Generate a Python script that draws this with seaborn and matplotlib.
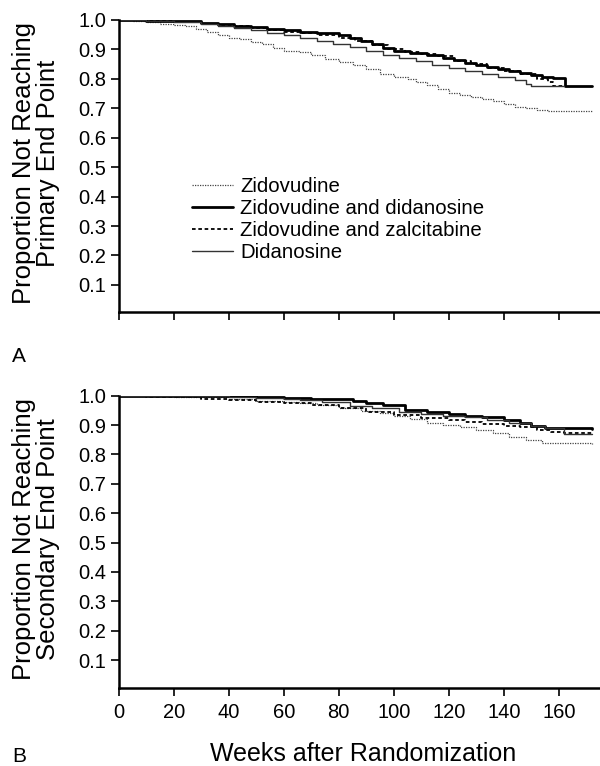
import matplotlib
matplotlib.use("Agg")
import matplotlib.pyplot as plt
import seaborn as sns

# Semanas y proporción sin evento (curvas escalonadas)
# --- Panel A: punto final primario ---
a_zdv_w = [0, 5, 10, 15, 20, 24, 28, 32, 36, 40, 44, 48, 52, 56, 60, 66, 70, 75, 80, 85, 90, 95,
           100, 105, 108, 112, 116, 120, 124, 128, 132, 136, 140, 144, 148, 152, 156, 172]
a_zdv_p = [1.0, 0.998, 0.993, 0.988, 0.984, 0.978, 0.968, 0.958, 0.948, 0.94, 0.934, 0.926, 0.918,
           0.905, 0.896, 0.89, 0.88, 0.868, 0.858, 0.846, 0.832, 0.815, 0.806, 0.8, 0.79, 0.778,
           0.765, 0.753, 0.744, 0.738, 0.731, 0.724, 0.716, 0.706, 0.7, 0.695, 0.69, 0.689]

a_ddi_zdv_w = [0, 10, 20, 30, 36, 42, 48, 54, 60, 66, 72, 80, 84, 88, 92, 96, 100, 106, 112, 118,
               122, 126, 130, 134, 138, 142, 146, 150, 154, 158, 162.4, 172]
a_ddi_zdv_p = [1.0, 0.998, 0.995, 0.99, 0.986, 0.98, 0.975, 0.97, 0.965, 0.96, 0.957, 0.949, 0.94,
               0.928, 0.918, 0.905, 0.895, 0.887, 0.88, 0.872, 0.865, 0.855, 0.848, 0.84, 0.834,
               0.828, 0.82, 0.812, 0.806, 0.802, 0.776, 0.776]

a_ddc_zdv_w = [0, 10, 20, 30, 36, 42, 48, 54, 60, 66, 72, 80, 86, 92, 98, 104, 110, 116, 122, 128,
               134, 140, 146, 152, 156, 158, 162]
a_ddc_zdv_p = [1.0, 0.998, 0.994, 0.988, 0.984, 0.978, 0.972, 0.966, 0.96, 0.955, 0.95, 0.94, 0.93,
               0.915, 0.9, 0.89, 0.883, 0.876, 0.862, 0.85, 0.838, 0.828, 0.815, 0.8, 0.79, 0.776,
               0.776]

a_ddi_w = [0, 10, 20, 30, 36, 42, 48, 54, 60, 66, 72, 78, 84, 90, 96, 102, 108, 114, 120, 126, 132,
           138, 144, 148, 150, 162]
a_ddi_p = [1.0, 0.997, 0.993, 0.985, 0.978, 0.972, 0.965, 0.957, 0.95, 0.938, 0.93, 0.92, 0.909,
           0.895, 0.882, 0.87, 0.86, 0.848, 0.836, 0.826, 0.816, 0.806, 0.796, 0.784, 0.776, 0.776]

# --- Panel B: punto final secundario ---
b_zdv_w = [0, 10, 20, 30, 40, 50, 60, 66, 72, 80, 88, 95, 100, 106, 112, 118, 124, 130, 136, 142,
           148, 154, 172]
b_zdv_p = [1.0, 0.999, 0.997, 0.994, 0.988, 0.983, 0.978, 0.975, 0.968, 0.958, 0.948, 0.94, 0.932,
           0.92, 0.906, 0.9, 0.893, 0.884, 0.872, 0.86, 0.85, 0.838, 0.837]

b_ddi_zdv_w = [0, 20, 30, 40, 50, 60, 70, 78, 85, 90, 96, 104, 112, 120, 126, 132, 140, 146, 150,
               155, 172]
b_ddi_zdv_p = [1.0, 1.0, 0.999, 0.998, 0.994, 0.992, 0.99, 0.988, 0.982, 0.975, 0.968, 0.952, 0.945,
               0.938, 0.931, 0.926, 0.918, 0.908, 0.898, 0.889, 0.887]

b_ddc_zdv_w = [0, 10, 20, 30, 40, 50, 60, 70, 80, 90, 100, 110, 120, 126, 132, 140, 146, 152, 157,
               162, 172]
b_ddc_zdv_p = [1.0, 0.997, 0.994, 0.99, 0.986, 0.98, 0.975, 0.967, 0.957, 0.945, 0.935, 0.925,
               0.918, 0.912, 0.905, 0.897, 0.892, 0.882, 0.877, 0.872, 0.872]

b_ddi_w = [0, 20, 30, 40, 50, 60, 66, 74, 84, 92, 102, 110, 118, 126, 134, 142, 150, 155, 162, 172]
b_ddi_p = [1.0, 0.999, 0.998, 0.996, 0.992, 0.988, 0.986, 0.978, 0.965, 0.958, 0.945, 0.938, 0.932,
           0.927, 0.918, 0.908, 0.896, 0.89, 0.869, 0.869]

labels = ["Zidovudine", "Zidovudine and didanosine", "Zidovudine and zalcitabine", "Didanosine"]
y_ticks = [0.1, 0.2, 0.3, 0.4, 0.5, 0.6, 0.7, 0.8, 0.9, 1.0]
x_ticks = [0, 20, 40, 60, 80, 100, 120, 140, 160]

# estilos de línea de cada grupo
styles = [
    dict(color="#444444", lw=0.9, linestyle=(0, (1, 1))),
    dict(color="black", lw=2.0, linestyle="-"),
    dict(color="black", lw=1.3, linestyle=(0, (2, 1.5))),
    dict(color="#333333", lw=1.0, linestyle="-"),
]

sns.set_style("ticks")
plt.rcParams["font.family"] = ["Liberation Sans", "DejaVu Sans"]
plt.rcParams.update({"text.color": "black", "axes.labelcolor": "black", "axes.edgecolor": "black",
                     "xtick.color": "black", "ytick.color": "black"})

fig = plt.figure(figsize=(6, 7.66), dpi=100)
ax1 = fig.add_axes([0.198, 0.5927, 0.802, 0.3812])
ax2 = fig.add_axes([0.198, 0.1018, 0.802, 0.3816])

panel_a = [(a_zdv_w, a_zdv_p), (a_ddi_zdv_w, a_ddi_zdv_p), (a_ddc_zdv_w, a_ddc_zdv_p), (a_ddi_w, a_ddi_p)]
panel_b = [(b_zdv_w, b_zdv_p), (b_ddi_zdv_w, b_ddi_zdv_p), (b_ddc_zdv_w, b_ddc_zdv_p), (b_ddi_w, b_ddi_p)]

for (w, p), lab, st in zip(panel_a, labels, styles):
    sns.lineplot(x=w, y=p, ax=ax1, drawstyle="steps-post", estimator=None, sort=False,
                 label=lab, **st)
for (w, p), st in zip(panel_b, styles):
    sns.lineplot(x=w, y=p, ax=ax2, drawstyle="steps-post", estimator=None, sort=False, **st)

for ax, lim_lo, name in [(ax1, 0.008, "Primary"), (ax2, 0.005, "Secondary")]:
    ax.set_xlim(0, 175)
    ax.set_ylim(lim_lo, 1.0)
    ax.set_yticks(y_ticks)
    ax.set_yticklabels([f"{v:.1f}" for v in y_ticks])
    ax.set_xticks(x_ticks)
    sns.despine(ax=ax)
    ax.spines["left"].set_linewidth(1.8)
    ax.spines["bottom"].set_linewidth(1.8)
    ax.tick_params(axis="both", direction="out", length=6, width=1.2, labelsize=14.5)
    ax.tick_params(axis="y", pad=3)
    ax.tick_params(axis="x", pad=5)
    ax.set_ylabel(f"Proportion Not Reaching\n{name} End Point", fontsize=18.5, linespacing=1.02)
    ax.yaxis.set_label_coords(-0.122, 0.51)

ax1.tick_params(axis="x", labelbottom=False)
ax1.set_xlabel("")
ax2.set_xlabel("Weeks after Randomization", fontsize=18)
ax2.xaxis.set_label_coords(0.507, -0.185)

ax1.legend(loc="upper left", bbox_to_anchor=(0.152, 0.462), frameon=False, fontsize=14.7,
           handlelength=2.0, handletextpad=0.35, labelspacing=0.15, borderpad=0, borderaxespad=0)

fig.text(0.02, 1 - 356 / 766, "A", fontsize=15, va="center")
fig.text(0.02, 1 - 757 / 766, "B", fontsize=15, va="center")

fig.savefig("out.png", dpi=100)
